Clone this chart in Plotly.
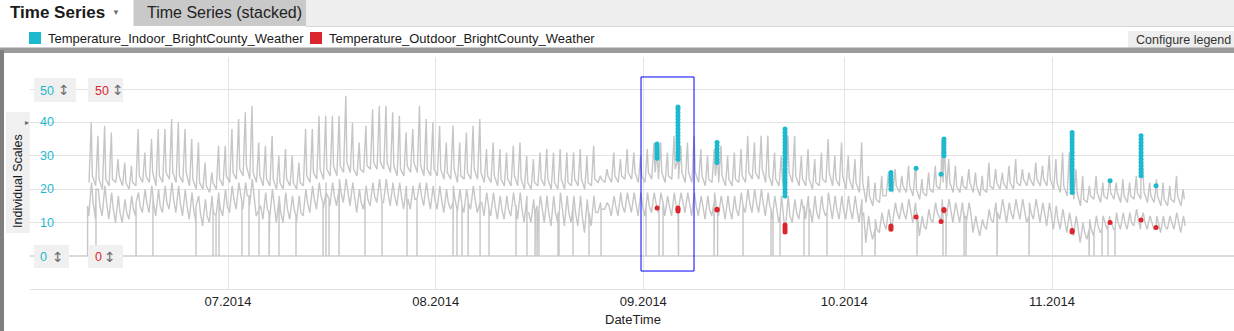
import pandas as pd
import plotly.graph_objects as go

# ---------------------------------------------------------------- data
# one entry per day, 2014-06-10 .. 2014-11-20
days = pd.date_range("2014-06-10", "2014-11-20", freq="D")

indoor_high = [
    # June 10-30
    40, 36, 39, 37, 29, 28, 27, 38, 31, 35, 38, 38, 41, 40, 38, 35, 34, 28, 25, 33, 33,
    # July
    38, 41, 43, 45, 34, 33, 36, 30, 32, 30, 28, 38, 38, 42, 42, 42, 42, 48, 40, 34,
    39, 44, 45, 45, 43, 42, 37, 38, 45, 41, 40,
    # August
    39, 34, 39, 34, 37, 39, 41, 32, 34, 32, 31, 33, 34, 30, 29, 31, 32, 31, 32, 31,
    31, 32, 30, 33, 24, 26, 31, 29, 32, 31, 30,
    # September
    32, 34, 34, 31, 36, 33, 34, 36, 32, 30, 32, 33, 30, 31, 32, 36, 34, 36, 36, 31,
    30, 36, 36, 30, 32, 29, 31, 35, 30, 34,
    # October
    30, 29, 34, 24, 22, 24, 25, 26, 24, 27, 26, 23, 25, 27, 35, 29, 27, 24, 26, 25,
    24, 28, 26, 25, 27, 29, 26, 25, 28, 27, 30,
    # November 1-20
    29, 31, 31, 26, 24, 21, 24, 22, 23, 22, 23, 22, 24, 25, 22, 23, 22, 21, 24, 20,
]
indoor_low = [
    22, 21, 20, 21, 22, 21, 20, 21, 22, 22, 21, 22, 23, 22, 22, 21, 20, 20, 19, 20, 21,
    22, 23, 24, 23, 22, 21, 21, 20, 20, 21, 20, 21, 22, 23, 23, 24, 24, 25, 25, 24,
    25, 26, 26, 26, 25, 24, 24, 25, 25, 24, 24,
    24, 23, 23, 22, 23, 23, 23, 22, 22, 21, 21, 21, 21, 20, 20, 21, 21, 20, 20, 20,
    21, 21, 20, 21, 22, 22, 22, 22, 23, 23, 22,
    22, 23, 23, 22, 23, 23, 22, 22, 22, 21, 22, 22, 21, 21, 22, 22, 23, 23, 22, 21,
    21, 22, 22, 21, 21, 20, 21, 22, 21, 21,
    20, 20, 19, 16, 15, 16, 18, 19, 19, 19, 18, 17, 18, 19, 20, 20, 19, 19, 20, 19,
    18, 19, 20, 20, 20, 20, 21, 21, 21, 21, 21,
    20, 19, 18, 17, 15, 16, 17, 16, 17, 17, 16, 16, 17, 17, 16, 16, 15, 15, 16, 15,
]
indoor_evening = [
    24, 23, 23, 23, 24, 22, 22, 24, 24, 25, 24, 25, 25, 24, 25, 23, 22, 21, 22, 23, 24,
    25, 26, 27, 25, 24, 23, 23, 22, 23, 22, 22, 24, 25, 26, 26, 27, 27, 28, 26, 26,
    27, 28, 28, 28, 27, 26, 27, 28, 27, 26, 26,
    26, 25, 26, 24, 25, 26, 25, 24, 24, 23, 23, 24, 23, 22, 22, 23, 23, 22, 23, 22,
    23, 23, 22, 23, 23, 24, 24, 24, 25, 25, 24,
    25, 25, 25, 24, 26, 25, 25, 25, 24, 23, 24, 24, 23, 23, 24, 25, 25, 26, 24, 23,
    23, 25, 24, 23, 23, 22, 23, 25, 23, 24,
    23, 22, 22, 18, 17, 18, 20, 21, 21, 21, 20, 19, 20, 21, 22, 22, 21, 21, 22, 21,
    20, 21, 22, 22, 22, 22, 23, 23, 23, 23, 23,
    22, 21, 20, 19, 17, 18, 19, 18, 19, 19, 18, 18, 19, 19, 18, 18, 17, 17, 18, 17,
]
outdoor_high = [
    22, 20, 21, 19, 18, 17, 18, 19, 20, 21, 20, 21, 22, 21, 20, 19, 18, 17, 18, 19, 20,
    21, 22, 22, 23, 20, 19, 20, 18, 19, 18, 18, 20, 21, 22, 22, 22, 23, 23, 22, 20,
    21, 22, 23, 23, 22, 22, 21, 21, 22, 22, 21,
    21, 20, 21, 20, 20, 21, 21, 19, 19, 18, 18, 19, 19, 18, 17, 18, 18, 18, 19, 18,
    18, 18, 17, 18, 16, 16, 18, 19, 19, 19, 19,
    19, 19, 19, 18, 19, 19, 19, 19, 18, 18, 19, 18, 18, 18, 19, 20, 20, 20, 19, 18,
    18, 18, 17, 17, 18, 18, 18, 19, 18, 18,
    18, 18, 17, 12, 11, 13, 14, 16, 16, 17, 16, 12, 14, 16, 17, 17, 16, 16, 16, 12,
    11, 14, 16, 17, 16, 17, 17, 16, 17, 16, 16,
    15, 14, 13, 12, 10, 11, 12, 12, 12, 13, 13, 13, 14, 13, 12, 12, 12, 12, 13, 12,
]
outdoor_low = [
    12, 11, 12, 11, 10, 10, 11, 12, 13, 13, 12, 13, 14, 13, 12, 11, 10, 9, 10, 11, 12,
    13, 14, 14, 15, 12, 11, 11, 10, 10, 11, 10, 12, 13, 14, 14, 15, 15, 16, 15, 13,
    14, 15, 16, 16, 15, 15, 14, 14, 15, 15, 14,
    14, 13, 14, 13, 13, 14, 13, 12, 12, 11, 11, 12, 11, 10, 10, 11, 10, 9, 10, 9,
    10, 9, 7, 9, 13, 14, 12, 12, 13, 13, 12,
    12, 13, 13, 12, 12, 13, 13, 12, 12, 11, 12, 12, 11, 11, 12, 13, 13, 13, 12, 11,
    10, 8, 10, 11, 11, 10, 11, 12, 11, 11,
    11, 11, 10, 4, 5, 7, 8, 10, 11, 11, 10, 6, 8, 10, 11, 11, 10, 10, 10, 7,
    6, 8, 10, 11, 10, 11, 11, 10, 11, 10, 9,
    8, 8, 7, 6, 4, 5, 6, 7, 8, 8, 8, 8, 9, 8, 8, 8, 7, 8, 8, 7,
]
outdoor_evening = [
    16, 15, 16, 14, 13, 13, 14, 15, 16, 16, 15, 16, 17, 16, 15, 14, 13, 12, 13, 14, 15,
    17, 18, 18, 18, 15, 14, 15, 13, 14, 14, 13, 16, 17, 18, 18, 18, 19, 19, 18, 16,
    17, 18, 19, 19, 18, 18, 17, 17, 18, 18, 17,
    17, 16, 17, 16, 16, 17, 16, 15, 15, 14, 14, 15, 14, 13, 13, 14, 13, 13, 14, 13,
    13, 12, 11, 13, 14, 15, 15, 15, 16, 16, 15,
    15, 16, 16, 15, 15, 16, 16, 15, 15, 14, 15, 15, 14, 14, 15, 16, 16, 16, 15, 14,
    13, 12, 13, 14, 14, 13, 14, 15, 14, 14,
    14, 14, 13, 8, 8, 10, 11, 13, 13, 14, 13, 9, 11, 13, 14, 14, 13, 13, 13, 9,
    9, 11, 13, 14, 13, 14, 14, 13, 14, 13, 12,
    11, 11, 10, 9, 7, 8, 9, 10, 10, 10, 10, 10, 11, 10, 10, 10, 9, 10, 10, 9,
]

# sensor dropouts: time of the zero reading and the level just around it
dropout_times = [
    "2014-06-10 01:00", "2014-06-11 07:00", "2014-06-17 06:30", "2014-06-19 19:00",
    "2014-06-26 05:15", "2014-06-28 18:15", "2014-06-29 05:00", "2014-06-29 15:50",
    "2014-07-03 02:00", "2014-07-04 03:00", "2014-07-05 15:00", "2014-07-07 03:00",
    "2014-07-08 14:40", "2014-07-11 03:30", "2014-07-15 04:20", "2014-07-15 15:00",
    "2014-07-16 02:00", "2014-07-17 13:40", "2014-07-21 10:50", "2014-07-23 23:45",
    "2014-07-27 17:20", "2014-07-29 05:00", "2014-08-03 14:10", "2014-08-04 04:20",
    "2014-08-04 22:20", "2014-08-05 20:00", "2014-08-07 15:00", "2014-08-08 23:00",
    "2014-08-12 23:45", "2014-08-14 15:10", "2014-08-15 20:00", "2014-08-16 03:00",
    "2014-08-16 10:00", "2014-08-19 06:15", "2014-08-19 09:50", "2014-08-21 12:00",
    "2014-08-23 21:20", "2014-08-25 16:20", "2014-09-01 09:40", "2014-09-03 08:10",
    "2014-09-03 22:30", "2014-09-06 06:00", "2014-09-11 13:10", "2014-09-12 02:00",
    "2014-09-15 21:10", "2014-09-20 01:30", "2014-09-20 08:40", "2014-09-21 09:40",
    "2014-09-24 23:30", "2014-09-25 17:30", "2014-09-28 10:00", "2014-10-03 15:20",
    "2014-10-05 14:00", "2014-10-11 20:30", "2014-10-15 17:30", "2014-10-16 04:20",
    "2014-10-18 21:00", "2014-10-19 04:00", "2014-10-23 19:00", "2014-10-28 13:40",
    "2014-11-06 12:45", "2014-11-07 06:30", "2014-11-08 11:15", "2014-11-09 08:40",
    "2014-11-10 09:50",
]
dropout_levels = [
    15, 20, 16, 18, 15, 14, 12, 17,
    16, 18, 14, 13, 17, 12, 16, 19, 17, 20, 18, 16, 15, 17,
    16, 14, 15, 17, 16, 14, 15, 13, 12, 15, 14, 13, 12, 15, 13, 14,
    15, 14, 16, 14, 16, 13, 15, 14, 13, 12, 15, 14, 13,
    12, 8, 10, 13, 12, 11, 12, 11, 12,
    8, 7, 8, 9, 8,
]

# marked readings (timestamp -> readings logged at that time)
marked_times = [
    "2014-09-03 01:00", "2014-09-06 04:00", "2014-09-12 00:00", "2014-09-22 03:30",
    "2014-10-07 23:00", "2014-10-11 17:00", "2014-10-15 10:30", "2014-10-15 21:00",
    "2014-11-04 00:00", "2014-11-09 16:00", "2014-11-14 07:00", "2014-11-16 12:45",
]
marked_indoor = [
    [29.3, 30.0, 30.8, 31.5, 32.2, 33.0, 33.5],
    [29.0, 30.0, 31.0, 32.0, 33.0, 34.0, 35.0, 36.0, 37.0, 38.0, 39.0, 40.0, 41.0,
     42.0, 43.0, 44.0, 44.6],
    [28.0, 29.0, 30.0, 31.0, 32.0, 33.0, 34.0],
    [18.0, 19.0, 20.0, 21.0, 22.0, 23.0, 24.0, 25.0, 26.0, 27.0, 28.0, 29.0, 30.0,
     31.0, 32.0, 33.0, 34.0, 35.0, 36.0, 37.0, 38.0],
    [20.0, 21.0, 22.0, 23.0, 24.0, 25.0],
    [26.3],
    [24.5],
    [30.0, 31.0, 32.0, 33.0, 34.0, 35.0],
    [19.0, 20.0, 21.0, 22.0, 23.0, 24.0, 25.0, 26.0, 27.0, 28.0, 29.0, 30.0, 31.0,
     32.0, 33.0, 34.0, 35.0, 36.0, 37.0],
    [22.5],
    [24.0, 25.0, 26.0, 27.0, 28.0, 29.0, 30.0, 31.0, 32.0, 33.0, 34.0, 35.0, 36.0],
    [21.0],
]
marked_outdoor = [
    [14.4],
    [13.5, 14.0, 14.4],
    [13.8, 14.0],
    [9.3, 8.5, 7.8, 7.2],
    [9.0, 8.5, 8.0],
    [11.7],
    [10.3],
    [13.6, 13.9],
    [7.6, 7.2],
    [10.0],
    [10.8],
    [8.5],
]

selection_x = ["2014-08-31 15:36", "2014-09-08 13:30"]
selection_y = [-4.5, 53.6]

INDOOR_NAME = "Temperature_Indoor_BrightCounty_Weather"
OUTDOOR_NAME = "Temperature_Outdoor_BrightCounty_Weather"
CYAN = "#1DB9CF"
RED = "#DA262C"
GREY_LINE = "#C6C6C6"
FONT = "Liberation Sans"


def series(daily, marked, drops=()):
    """daily: [(hour, values), ...]; marked: per-timestamp reading lists."""
    t, v = [], []
    for hour, vals in daily:
        t += list(days + pd.Timedelta(hours=hour))
        v += list(vals)
    for ts, vals in zip(marked_times, marked):
        t += [pd.Timestamp(ts)] * len(vals)
        v += vals
    for ts, level in drops:
        ts = pd.Timestamp(ts)
        t += [ts - pd.Timedelta(minutes=3), ts, ts + pd.Timedelta(minutes=3)]
        v += [level, 0, level]
    return pd.DataFrame({"t": t, "v": v}).sort_values("t", kind="stable")


def marked_points(marked):
    xs, ys = [], []
    for ts, vals in zip(marked_times, marked):
        xs += [ts] * len(vals)
        ys += vals
    return xs, ys


indoor = series([(6, indoor_low), (14, indoor_high), (18, indoor_evening)],
                marked_indoor)
outdoor = series([(5, outdoor_low), (15, outdoor_high), (21, outdoor_evening)],
                 marked_outdoor, zip(dropout_times, dropout_levels))

fig = go.Figure()
for df in (indoor, outdoor):
    fig.add_trace(go.Scatter(x=df["t"], y=df["v"], mode="lines",
                             line=dict(color=GREY_LINE, width=1.4),
                             hoverinfo="skip", showlegend=False))
for marked, col, name in ((marked_indoor, CYAN, INDOOR_NAME),
                          (marked_outdoor, RED, OUTDOOR_NAME)):
    mx, my = marked_points(marked)
    fig.add_trace(go.Scatter(x=mx, y=my, mode="markers", name=name,
                             marker=dict(color=col, size=5, line=dict(width=0)),
                             showlegend=False))

# ---------------------------------------------------------------- geometry
L, T, W, H = 30, 57, 1204, 232
WIDTH, HEIGHT = 1234, 331


def px(x):
    return (x - L) / W


def py(y):
    return (T + H - y) / H


shapes = []
annotations = []


def rect(x0, y0, x1, y1, fill, layer="above"):
    shapes.append(dict(type="rect", xref="paper", yref="paper",
                       x0=px(x0), x1=px(x1), y0=py(y1), y1=py(y0),
                       fillcolor=fill, layer=layer, line=dict(width=0)))


def text(x, y, s, size=13, color="#1a1a1a", anchor="left", bold=False, angle=0,
         family=FONT):
    annotations.append(dict(xref="paper", yref="paper", x=px(x), y=py(y),
                            text=f"<b>{s}</b>" if bold else s, showarrow=False,
                            xanchor=anchor, yanchor="middle", textangle=angle,
                            font=dict(family=family, size=size, color=color)))


# tab strip
rect(306, 0, 1234, 26, "#EEEEEE")
shapes.append(dict(type="line", xref="paper", yref="paper",
                   x0=px(306), x1=px(1234), y0=py(26.5), y1=py(26.5),
                   line=dict(color="#D6D6D6", width=1)))
rect(133.5, 0, 306, 26, "#C9C9C9")
text(8, 13, "Time Series", size=17, bold=True)
text(116, 13, "▼", size=8, color="#707070", anchor="center")
text(145, 13, "Time Series (stacked)", size=16, color="#222222")

# legend row
rect(29, 32, 41, 44, CYAN)
text(46, 38.5, INDOOR_NAME, size=13)
rect(310, 32, 322, 44, RED)
text(327, 38.5, OUTDOOR_NAME, size=13)
rect(1128, 31, 1234, 48, "#EEEEEE")
text(1134, 40, "Configure legend", size=12.5, color="#333333")

# splitter bars
rect(0, 47.5, 1234, 53, "#9B9B9B")
rect(0, 50, 4, 331, "#7F7F7F")

# scale panel
rect(6, 112, 30, 233, "#F0F0F0")
text(18, 181, "Individual Scales", size=12.5, angle=-90, anchor="center")
text(27, 122, "▸", size=8, color="#666666", anchor="center")

ARROW_FONT = "DejaVu Sans"
for x0, x1, label, tx, ix, col in ((34, 76, "50", 38, 63.5, CYAN),
                                   (88, 123, "50", 93, 117.5, RED)):
    rect(x0, 78, x1, 102, "#F0F0F0")
    text(tx, 90.5, label, size=12.5, color=col)
    text(ix, 90, "↕", size=14, color="#6E6E6E", anchor="center", family=ARROW_FONT)
for x0, x1, label, tx, ix, col in ((34, 69, "0", 38, 57.5, CYAN),
                                   (88, 123, "0", 93, 110.5, RED)):
    rect(x0, 245, x1, 268, "#F0F0F0")
    text(tx, 257, label, size=12.5, color=col)
    text(ix, 256.5, "↕", size=14, color="#6E6E6E", anchor="center", family=ARROW_FONT)

for v in (40, 30, 20, 10):
    annotations.append(dict(xref="paper", yref="y", x=px(38), y=v, text=str(v),
                            showarrow=False, xanchor="left", yanchor="middle",
                            font=dict(family=FONT, size=12.5, color=CYAN)))

text(633, 319, "DateTime", size=13, color="#222222", anchor="center")

# marking window
shapes.append(dict(type="rect", xref="x", yref="y",
                   x0=selection_x[0], x1=selection_x[1],
                   y0=selection_y[0], y1=selection_y[1],
                   line=dict(color="#0000FF", width=1), fillcolor="rgba(0,0,0,0)",
                   layer="above"))

fig.update_layout(
    width=WIDTH, height=HEIGHT,
    margin=dict(l=L, r=WIDTH - L - W, t=T, b=HEIGHT - T - H, pad=0),
    paper_bgcolor="white", plot_bgcolor="white",
    font=dict(family=FONT, size=13, color="#222222"),
    showlegend=False,
    shapes=shapes, annotations=annotations,
    xaxis=dict(type="date", range=["2014-06-01 10:35", "2014-11-28 04:00"],
               tick0="2014-07-01", dtick="M1", tickformat="%m.%Y",
               showgrid=True, gridcolor="#E3E3E3", gridwidth=1,
               showline=True, linecolor="#E0E0E0", linewidth=1,
               ticks="", tickfont=dict(size=13, color="#222222"),
               zeroline=False, fixedrange=True),
    yaxis=dict(range=[-9.88, 59.58], dtick=10, tick0=0,
               showgrid=True, gridcolor="#E2E2E2", gridwidth=1,
               zeroline=True, zerolinecolor="#DADADA", zerolinewidth=2,
               showticklabels=False, ticks="", fixedrange=True),
)

fig.write_html("out.html")
